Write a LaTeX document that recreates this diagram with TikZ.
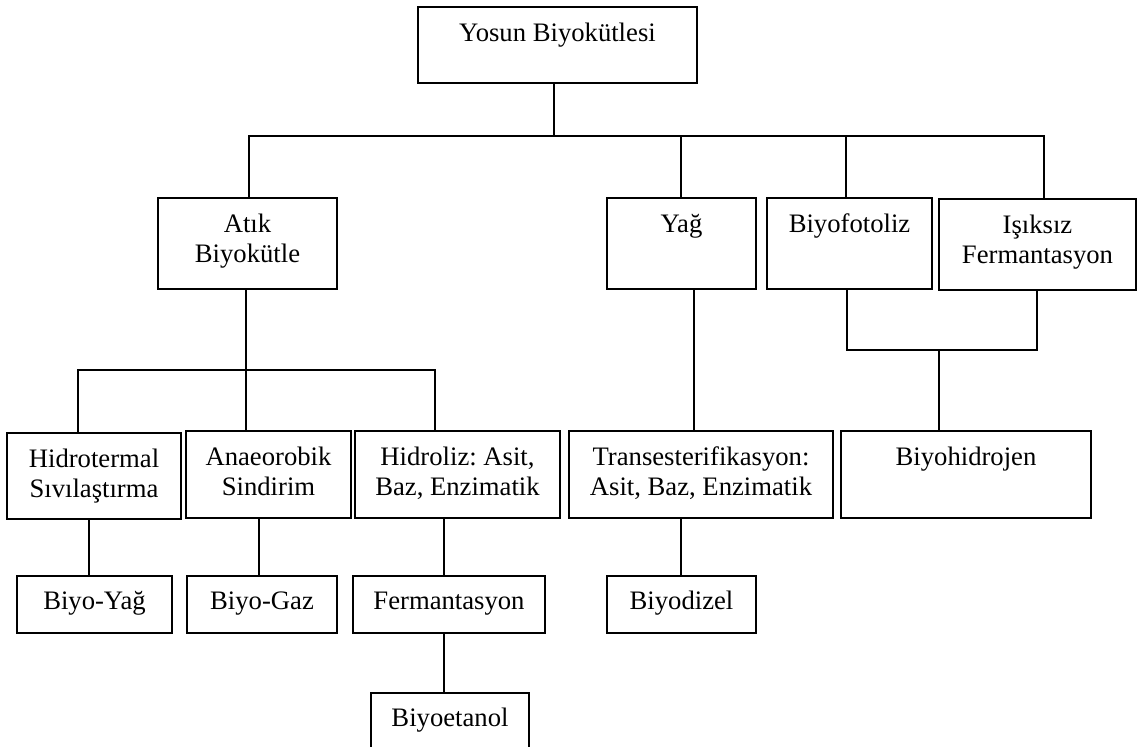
\documentclass[tikz,border=0pt]{standalone}
\usepackage{fontspec}
\setmainfont{Liberation Serif}
\usetikzlibrary{fit,calc}
\frenchspacing
\tikzset{
  box/.style={draw, line width=0.85pt, inner sep=0pt, fill=none},
  txt/.style={anchor=base, inner sep=0pt, font=\fontsize{12pt}{13.8pt}\selectfont},
  link/.style={draw, line width=0.85pt}
}
\newcommand\twoline[2]{\begin{tabular}[t]{@{}c@{}}#1\\#2\end{tabular}}
\begin{document}
\begin{tikzpicture}[x=0.45pt,y=-0.45pt]
\useasboundingbox (0,0) rectangle (1137,747);
\clip (0,0) rectangle (1137,747);
% --- boxes ---
\node[box, fit={(418,7) (697,83)}] (top) {};
\node[box, fit={(158,198) (337,289)}] (atik) {};
\node[box, fit={(607,198) (756,289)}] (yag) {};
\node[box, fit={(767,198) (932,289)}] (foto) {};
\node[box, fit={(939,199) (1136,290)}] (isik) {};
\node[box, fit={(7,433) (181,519)}] (hter) {};
\node[box, fit={(186,431) (351,518)}] (anae) {};
\node[box, fit={(355,431) (560,518)}] (hidr) {};
\node[box, fit={(569,431) (833,518)}] (tran) {};
\node[box, fit={(841,431) (1091,518)}] (bhid) {};
\node[box, fit={(17,576) (172,633)}] (byag) {};
\node[box, fit={(187,576) (337,633)}] (bgaz) {};
\node[box, fit={(353,576) (545,633)}] (ferm) {};
\node[box, fit={(607,576) (756,633)}] (bdiz) {};
\node[box, fit={(371,693) (529,770)}] (beta) {};
% --- labels ---
\node[txt] (top-t)  at ($(top.north)+(0,35)$)  {Yosun Biyokütlesi};
\node[txt] (atik-t) at ($(atik.north)+(0,35)$) {\twoline{Atık}{Biyokütle}};
\node[txt] (yag-t)  at ($(yag.north)+(0,35)$)  {Yağ};
\node[txt] (foto-t) at ($(foto.north)+(0,35)$) {Biyofotoliz};
\node[txt] (isik-t) at ($(isik.north)+(0,35)$) {\twoline{Işıksız}{Fermantasyon}};
\node[txt] (hter-t) at ($(hter.north)+(0,35)$) {\twoline{Hidrotermal}{Sıvılaştırma}};
\node[txt] (anae-t) at ($(anae.north)+(0,35)$) {\twoline{Anaeorobik}{Sindirim}};
\node[txt] (hidr-t) at ($(hidr.north)+(0,35)$) {\twoline{Hidroliz: Asit,}{Baz, Enzimatik}};
\node[txt] (tran-t) at ($(tran.north)+(0,35)$) {\twoline{Transesterifikasyon:}{Asit, Baz, Enzimatik}};
\node[txt] (bhid-t) at ($(bhid.north)+(0,35)$) {Biyohidrojen};
\node[txt] (byag-t) at ($(byag.north)+(0,34)$) {Biyo-Yağ};
\node[txt] (bgaz-t) at ($(bgaz.north)+(0,34)$) {Biyo-Gaz};
\node[txt] (ferm-t) at ($(ferm.north)+(0,34)$) {Fermantasyon};
\node[txt] (bdiz-t) at ($(bdiz.north)+(0,34)$) {Biyodizel};
\node[txt] (beta-t) at ($(beta.north)+(0,34)$) {Biyoetanol};
% --- junction points ---
\coordinate (j1) at (554,136);
\coordinate (j2) at (246,370);
\coordinate (j3) at (939,350);
\coordinate (dA) at (249,136);
\coordinate (dY) at (681,136);
\coordinate (dF) at (846,136);
\coordinate (dI) at (1044,136);
\coordinate (d1) at (78,370);
\coordinate (d3) at (435,370);
\coordinate (gY) at (694,300);
\coordinate (e1) at (89,520);
\coordinate (e2) at (259,520);
\coordinate (e3) at (444,520);
\coordinate (e4) at (681,520);
\coordinate (e5) at (444,633);
\coordinate (fF) at (847,350);
\coordinate (fI) at (1037,350);
% --- connectors ---
\path[link] (j1 |- top.south) -- (j1);
\path[link] (dA |- atik.north) -- (dA) -- (dI) -- (dI |- isik.north);
\path[link] (dY) -- (dY |- yag.north);
\path[link] (dF) -- (dF |- foto.north);
\path[link] (j2 |- atik.south) -- (j2);
\path[link] (d1 |- hter.north) -- (d1) -- (d3) -- (d3 |- hidr.north);
\path[link] (j2) -- (j2 |- anae.north);
\path[link] (gY |- yag.south) -- (gY |- tran.north);
\path[link] (fF |- foto.south) -- (fF) -- (fI) -- (fI |- isik.south);
\path[link] (j3) -- (j3 |- bhid.north);
\path[link] (e1 |- hter.south) -- (e1 |- byag.north);
\path[link] (e2 |- anae.south) -- (e2 |- bgaz.north);
\path[link] (e3 |- hidr.south) -- (e3 |- ferm.north);
\path[link] (e4 |- tran.south) -- (e4 |- bdiz.north);
\path[link] (e5 |- ferm.south) -- (e5 |- beta.north);
\end{tikzpicture}
\end{document}
